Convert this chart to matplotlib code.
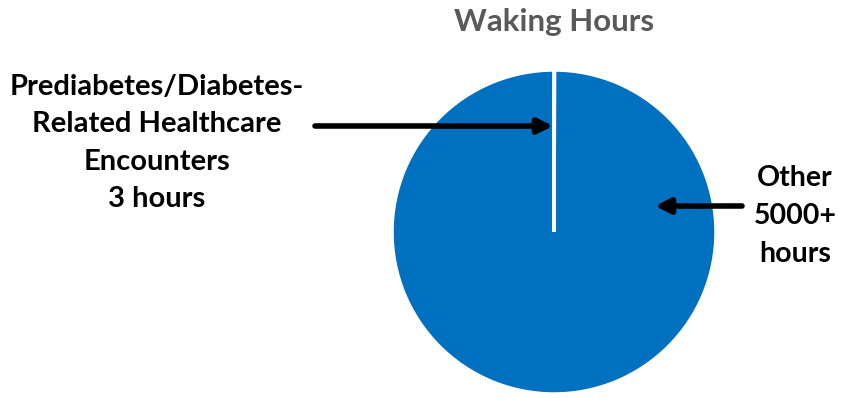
import matplotlib
matplotlib.use("Agg")
import matplotlib.pyplot as plt

# data
labels = ["Prediabetes/Diabetes-\nRelated Healthcare\nEncounters\n3 hours", "Other\n5000+\nhours"]
hours = [3, 5000]
title = "Waking Hours"

plt.rcParams['font.family'] = ['Lato', 'DejaVu Sans']

W, H = 842, 398
fig = plt.figure(figsize=(W / 100, H / 100), dpi=100)

# pie centre ~ (554, 232) px, radius ~162 px
cx, cy, r = 554, 232, 162
ax = fig.add_axes([(cx - r) / W, (H - cy - r) / H, 2 * r / W, 2 * r / H])
ax.pie(hours, colors=["#0070C0", "#0070C0"], startangle=90, counterclock=False,
       wedgeprops=dict(edgecolor="white", linewidth=2.5))
ax.set_xlim(-1, 1)
ax.set_ylim(-1, 1)
ax.set_aspect("equal")
ax.axis("off")

fig.text(cx / W, 1 - 22 / H, title, ha="center", va="center",
         fontsize=22.5, fontweight="bold", color="#595959")

fig.text(157 / W, 1 - 143 / H, labels[0], ha="center", va="center",
         fontsize=21, fontweight="bold", color="black", linespacing=1.55)
fig.text(795 / W, 1 - 216 / H, labels[1], ha="center", va="center",
         fontsize=20.5, fontweight="bold", color="black", linespacing=1.55)

arrow = dict(arrowstyle="-|>", color="black", lw=4, mutation_scale=22,
             shrinkA=0, shrinkB=0)
# arrow tips in pie data coords, tails in figure fraction
ax.annotate("", xy=((553 - cx) / r, (cy - 126) / r), xycoords="data",
            xytext=(315 / W, 1 - 126 / H), textcoords="figure fraction",
            arrowprops=arrow, annotation_clip=False)
ax.annotate("", xy=((655 - cx) / r, (cy - 206) / r), xycoords="data",
            xytext=(742 / W, 1 - 206 / H), textcoords="figure fraction",
            arrowprops=arrow, annotation_clip=False)

fig.savefig("out.png", dpi=100)
